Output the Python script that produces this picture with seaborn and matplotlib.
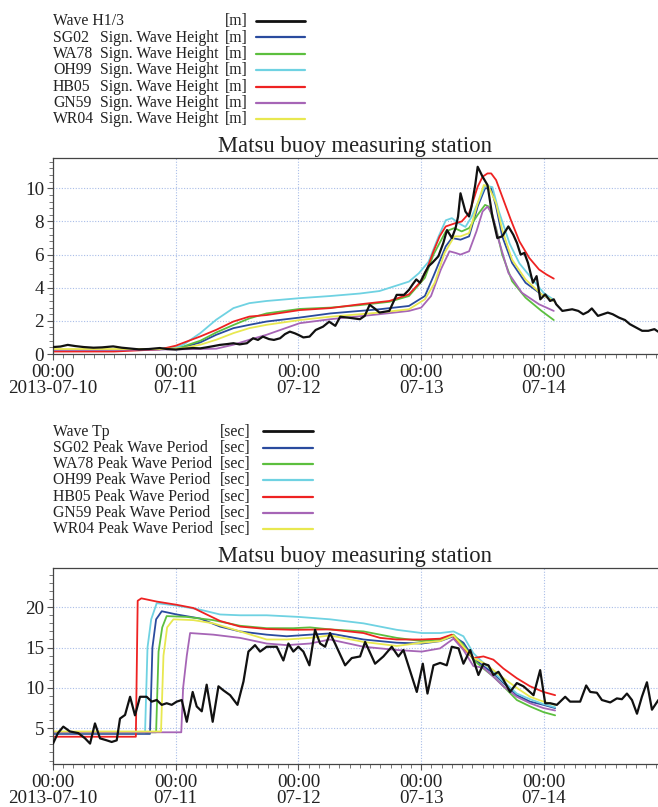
import numpy as np
import pandas as pd
import matplotlib
matplotlib.use("Agg")
import matplotlib.pyplot as plt
import matplotlib.dates as mdates
from matplotlib.ticker import MultipleLocator, FuncFormatter
from matplotlib.lines import Line2D
import seaborn as sns

# ---------------- data (time in days since 2013-07-10 00:00) ----------------
start = pd.Timestamp("2013-07-10 00:00")

# Top panel: significant wave height [m]
obs_h_days = [0.00, 0.06, 0.12, 0.18, 0.25, 0.33, 0.40, 0.49, 0.56, 0.63, 0.70, 0.78, 0.87, 0.93,
              1.00, 1.07, 1.14, 1.20, 1.25, 1.31, 1.36, 1.42, 1.47, 1.52, 1.58, 1.63, 1.67, 1.71,
              1.76, 1.80, 1.85, 1.89, 1.93, 1.97, 2.00, 2.04, 2.09, 2.14, 2.20, 2.25, 2.30, 2.34,
              2.40, 2.45, 2.50, 2.54, 2.58, 2.62, 2.66, 2.70, 2.74, 2.80, 2.86, 2.90, 2.93, 2.96,
              2.99, 3.03, 3.06, 3.09, 3.14, 3.18, 3.21, 3.25, 3.28, 3.30, 3.32, 3.36, 3.39, 3.41,
              3.44, 3.46, 3.50, 3.54, 3.58, 3.62, 3.66, 3.71, 3.75, 3.78, 3.81, 3.84, 3.87, 3.91,
              3.94, 3.97, 4.01, 4.05, 4.08, 4.10, 4.15, 4.19, 4.23, 4.28, 4.32, 4.36, 4.39, 4.44,
              4.48, 4.52, 4.56, 4.61, 4.66, 4.70, 4.75, 4.80, 4.85, 4.90, 4.93]
obs_h = [0.42, 0.45, 0.55, 0.48, 0.42, 0.38, 0.40, 0.46, 0.38, 0.33, 0.28, 0.30, 0.36, 0.30,
         0.27, 0.32, 0.36, 0.34, 0.40, 0.48, 0.55, 0.60, 0.65, 0.58, 0.65, 0.95, 0.85, 1.05,
         0.90, 0.85, 0.95, 1.20, 1.35, 1.25, 1.15, 1.00, 1.05, 1.45, 1.65, 1.95, 1.70, 2.25,
         2.20, 2.15, 2.10, 2.30, 2.97, 2.75, 2.50, 2.55, 2.60, 3.57, 3.57, 3.87, 4.20, 4.50,
         4.30, 4.90, 5.30, 5.50, 5.90, 6.70, 7.48, 7.00, 7.60, 8.29, 9.70, 8.60, 8.30, 8.90,
         10.2, 11.3, 10.7, 10.2, 8.30, 7.00, 7.10, 7.70, 7.20, 6.70, 6.00, 6.10, 5.50, 4.30,
         4.70, 3.30, 3.60, 3.20, 3.30, 3.00, 2.60, 2.65, 2.70, 2.60, 2.40, 2.55, 2.75, 2.30,
         2.40, 2.50, 2.40, 2.20, 2.05, 1.80, 1.60, 1.40, 1.40, 1.50, 1.35]

sg02_h_days = [0, 0.5, 0.87, 1.0, 1.06, 1.2, 1.33, 1.47, 1.6, 1.74, 2.01, 2.26, 2.66, 2.9, 3.03, 3.1,
               3.2, 3.25, 3.32, 3.39, 3.46, 3.52, 3.57, 3.61, 3.66, 3.74, 3.85, 3.98, 4.08]
sg02_h = [0.22, 0.22, 0.28, 0.33, 0.40, 0.70, 1.16, 1.56, 1.76, 1.96, 2.20, 2.45, 2.70, 2.90, 3.50, 4.70,
          6.50, 7.00, 6.90, 7.10, 8.90, 10.0, 10.0, 8.90, 7.10, 5.50, 4.30, 3.60, 3.20]

wa78_h_days = [0, 0.5, 0.87, 1.0, 1.06, 1.2, 1.33, 1.47, 1.6, 1.74, 2.01, 2.26, 2.5, 2.74, 2.9, 3.03,
               3.1, 3.2, 3.27, 3.33, 3.39, 3.46, 3.52, 3.55, 3.61, 3.66, 3.74, 3.85, 3.98, 4.08]
wa78_h = [0.25, 0.25, 0.30, 0.38, 0.45, 0.80, 1.30, 1.75, 2.15, 2.45, 2.72, 2.80, 2.95, 3.15, 3.50, 4.60,
          6.00, 7.40, 7.60, 7.40, 7.60, 8.40, 9.00, 8.90, 7.60, 6.00, 4.40, 3.40, 2.60, 2.05]

oh99_h_days = [0, 0.5, 0.87, 1.0, 1.06, 1.2, 1.33, 1.47, 1.6, 1.74, 2.01, 2.26, 2.5, 2.66, 2.9, 2.98,
               3.06, 3.14, 3.2, 3.25, 3.31, 3.36, 3.41, 3.47, 3.52, 3.58, 3.63, 3.72, 3.8, 3.91, 4.0, 4.08]
oh99_h = [0.25, 0.25, 0.30, 0.40, 0.55, 1.26, 2.07, 2.77, 3.07, 3.20, 3.37, 3.50, 3.65, 3.80, 4.37, 4.87,
          5.57, 7.07, 8.07, 8.20, 7.87, 7.67, 8.27, 9.27, 10.17, 10.07, 8.67, 6.67, 5.47, 4.47, 3.67, 3.27]

hb05_h_days = [0, 0.5, 0.87, 1.0, 1.06, 1.2, 1.33, 1.47, 1.6, 1.74, 2.01, 2.26, 2.5, 2.74, 2.9, 3.0,
               3.05, 3.1, 3.15, 3.2, 3.28, 3.33, 3.39, 3.43, 3.46, 3.5, 3.54, 3.57, 3.61, 3.66, 3.73,
               3.8, 3.88, 3.96, 4.02, 4.08]
hb05_h = [0.15, 0.15, 0.28, 0.50, 0.67, 1.06, 1.46, 1.96, 2.26, 2.35, 2.65, 2.77, 3.00, 3.20, 3.60, 4.40,
          5.20, 6.20, 7.10, 7.70, 7.90, 8.00, 8.50, 9.40, 10.1, 10.7, 10.9, 10.9, 10.5, 9.50, 8.10,
          6.80, 5.80, 5.10, 4.80, 4.55]

gn59_h_days = [0, 0.5, 1.0, 1.33, 1.47, 1.6, 1.74, 2.01, 2.26, 2.66, 2.9, 3.0, 3.08, 3.16, 3.23, 3.28,
               3.32, 3.39, 3.45, 3.5, 3.54, 3.58, 3.63, 3.71, 3.82, 3.96, 4.08]
gn59_h = [0.25, 0.25, 0.28, 0.32, 0.56, 0.86, 1.16, 1.86, 2.10, 2.40, 2.60, 2.80, 3.50, 5.10, 6.20, 6.10,
          6.00, 6.20, 7.40, 8.60, 8.90, 8.40, 6.90, 4.90, 3.70, 3.00, 2.60]

wr04_h_days = [0, 0.5, 0.87, 1.06, 1.2, 1.33, 1.47, 1.6, 1.74, 2.01, 2.26, 2.66, 2.9, 3.03, 3.11, 3.19,
               3.27, 3.32, 3.39, 3.46, 3.51, 3.55, 3.61, 3.66, 3.74, 3.85, 3.98, 4.08]
wr04_h = [0.30, 0.30, 0.30, 0.35, 0.56, 0.86, 1.26, 1.56, 1.76, 2.05, 2.25, 2.50, 2.70, 3.30, 4.30, 6.10,
          7.10, 7.10, 7.30, 9.10, 10.2, 10.1, 9.10, 7.50, 5.70, 4.50, 3.60, 3.20]

# Bottom panel: peak wave period [sec]
obs_t_days = [0.0, 0.04, 0.084, 0.138, 0.206, 0.261, 0.302, 0.342, 0.383, 0.438, 0.478, 0.519, 0.546,
              0.587, 0.628, 0.668, 0.709, 0.763, 0.804, 0.845, 0.886, 0.926, 0.967, 1.008, 1.049,
              1.09, 1.138, 1.171, 1.212, 1.252, 1.301, 1.348, 1.388, 1.443, 1.503, 1.552, 1.592,
              1.646, 1.687, 1.741, 1.823, 1.877, 1.918, 1.958, 1.999, 2.04, 2.089, 2.135, 2.176,
              2.217, 2.257, 2.298, 2.38, 2.434, 2.502, 2.543, 2.624, 2.692, 2.76, 2.814, 2.855,
              2.964, 3.013, 3.051, 3.1, 3.154, 3.208, 3.249, 3.304, 3.344, 3.399, 3.466, 3.507,
              3.548, 3.588, 3.629, 3.67, 3.724, 3.779, 3.833, 3.915, 3.969, 4.01, 4.051, 4.105,
              4.173, 4.213, 4.295, 4.344, 4.377, 4.431, 4.472, 4.54, 4.594, 4.635, 4.676, 4.717,
              4.758, 4.798, 4.839, 4.88, 4.932]
obs_t = [3.1, 4.4, 5.2, 4.6, 4.4, 3.75, 3.1, 5.6, 3.75, 3.5, 3.3, 3.5, 6.2,
         6.65, 8.9, 6.6, 8.9, 8.9, 8.3, 8.5, 7.9, 8.1, 7.9, 8.3, 8.5,
         5.8, 9.5, 7.7, 7.1, 10.4, 5.8, 10.2, 9.7, 9.1, 7.9, 10.8, 14.5,
         15.3, 14.5, 15.1, 15.1, 13.4, 15.5, 14.5, 15.1, 14.5, 12.8, 17.2, 15.5,
         15.1, 16.8, 15.5, 12.8, 13.7, 13.9, 15.7, 13.0, 13.9, 15.1, 13.9, 14.7,
         9.5, 13.0, 9.3, 12.8, 13.1, 12.8, 15.1, 14.9, 13.0, 14.7, 11.6, 13.0,
         12.8, 11.6, 12.0, 11.0, 9.5, 10.6, 10.2, 9.1, 12.2, 8.1, 8.1, 7.9,
         8.9, 8.3, 8.3, 10.3, 9.5, 9.4, 8.5, 8.2, 8.7, 8.6, 9.3, 8.5,
         6.8, 8.9, 10.7, 7.3, 8.5]

sg02_t_days = [0, 0.79, 0.81, 0.84, 0.886, 1.008, 1.198, 1.361, 1.524, 1.741, 1.904, 2.094, 2.257, 2.53,
               2.80, 3.005, 3.154, 3.263, 3.344, 3.425, 3.507, 3.588, 3.67, 3.779, 3.887, 3.996, 4.091]
sg02_t = [4.3, 4.3, 15.0, 18.5, 19.5, 19.1, 18.6, 17.6, 17.0, 16.6, 16.4, 16.6, 16.75, 16.0,
          15.6, 15.5, 15.8, 16.4, 15.6, 13.7, 12.7, 11.8, 10.6, 9.1, 8.3, 7.9, 7.5]

wa78_t_days = [0, 0.84, 0.86, 0.89, 0.926, 1.09, 1.306, 1.524, 1.741, 1.958, 2.094, 2.257, 2.53, 2.80,
               3.005, 3.154, 3.263, 3.344, 3.425, 3.507, 3.588, 3.67, 3.779, 3.887, 3.996, 4.091]
wa78_t = [4.5, 4.5, 14.5, 17.5, 18.9, 18.8, 18.4, 17.7, 17.4, 17.4, 17.5, 17.25, 17.0, 16.2,
          15.8, 16.0, 16.6, 15.3, 13.5, 12.4, 11.4, 10.2, 8.5, 7.7, 7.0, 6.6]

oh99_t_days = [0, 0.75, 0.77, 0.80, 0.845, 1.008, 1.198, 1.361, 1.524, 1.741, 2.0, 2.257, 2.53, 2.80,
               3.005, 3.154, 3.263, 3.344, 3.425, 3.507, 3.588, 3.67, 3.779, 3.887, 3.996, 4.091]
oh99_t = [4.5, 4.5, 15.0, 18.5, 20.5, 20.2, 19.7, 19.1, 19.0, 19.0, 18.8, 18.5, 18.0, 17.2,
          16.8, 16.8, 17.0, 16.4, 14.3, 13.1, 12.0, 10.8, 9.3, 8.6, 8.0, 7.6]

hb05_t_days = [0, 0.675, 0.69, 0.72, 0.845, 1.008, 1.144, 1.252, 1.361, 1.524, 1.741, 1.958, 2.257, 2.53,
               2.665, 2.80, 3.005, 3.154, 3.249, 3.344, 3.425, 3.507, 3.588, 3.67, 3.779, 3.887,
               3.996, 4.091]
hb05_t = [3.95, 3.95, 20.8, 21.1, 20.7, 20.3, 19.9, 19.1, 18.3, 17.6, 17.3, 17.2, 17.25, 16.8,
          16.2, 16.0, 16.0, 16.1, 16.6, 14.9, 13.7, 13.9, 13.5, 12.4, 11.2, 10.2, 9.5, 9.1]

gn59_t_days = [0, 1.045, 1.06, 1.09, 1.117, 1.306, 1.524, 1.741, 1.904, 2.094, 2.257, 2.53, 2.80, 3.005,
               3.154, 3.263, 3.344, 3.425, 3.507, 3.588, 3.67, 3.779, 3.887, 3.996, 4.091]
gn59_t = [4.5, 4.5, 10.0, 14.0, 16.8, 16.6, 16.2, 15.5, 15.3, 15.5, 16.0, 15.1, 14.7, 14.5,
          14.9, 16.1, 14.7, 12.7, 12.5, 11.4, 10.2, 8.9, 8.1, 7.5, 7.2]

wr04_t_days = [0, 0.88, 0.90, 0.93, 0.981, 1.144, 1.306, 1.524, 1.741, 1.904, 2.094, 2.257, 2.53, 2.80,
               3.005, 3.154, 3.263, 3.344, 3.425, 3.507, 3.588, 3.67, 3.779, 3.887, 3.996, 4.091]
wr04_t = [4.6, 4.6, 14.0, 17.5, 18.5, 18.4, 18.0, 17.0, 16.0, 16.0, 16.2, 16.5, 15.7, 15.2,
          15.6, 15.8, 16.5, 15.1, 13.7, 13.1, 12.2, 11.2, 10.0, 8.9, 8.3, 7.9]

height_labels = ["Wave H1/3", "SG02", "WA78", "OH99", "HB05", "GN59", "WR04"]
period_labels = ["Wave Tp", "SG02 Peak Wave Period", "WA78 Peak Wave Period",
                 "OH99 Peak Wave Period", "HB05 Peak Wave Period", "GN59 Peak Wave Period",
                 "WR04 Peak Wave Period"]
colors = ["#111111", "#2a4b9e", "#5cbf3e", "#6fd2e2", "#ee2222", "#a665b6", "#e8e850"]
title_text = "Matsu buoy measuring station"

# ---------------- figure ----------------
sns.set_theme(style="white")
plt.rcParams["font.family"] = ["Liberation Serif", "DejaVu Serif"]
plt.rcParams["text.color"] = "#222222"

W, H = 658, 807
fig = plt.figure(figsize=(W / 100, H / 100), dpi=100)
fig.patch.set_facecolor("white")


def fx(px):
    return px / W


def fy(py):
    return 1 - py / H


ax1 = fig.add_axes([fx(53), fy(354), 1 - fx(53), (354 - 158) / H])
ax2 = fig.add_axes([fx(53), fy(764), 1 - fx(53), (764 - 568) / H])


def to_time(days):
    return start + pd.to_timedelta(np.asarray(days) * 1440, unit="min")


top_series = [(obs_h_days, obs_h), (sg02_h_days, sg02_h), (wa78_h_days, wa78_h),
              (oh99_h_days, oh99_h), (hb05_h_days, hb05_h), (gn59_h_days, gn59_h),
              (wr04_h_days, wr04_h)]
bot_series = [(obs_t_days, obs_t), (sg02_t_days, sg02_t), (wa78_t_days, wa78_t),
              (oh99_t_days, oh99_t), (hb05_t_days, hb05_t), (gn59_t_days, gn59_t),
              (wr04_t_days, wr04_t)]

draw_order = [1, 2, 3, 4, 5, 6, 0]
for ax, series in ((ax1, top_series), (ax2, bot_series)):
    for i in draw_order:
        d, v = series[i]
        df = pd.DataFrame({"time": to_time(d), "value": v})
        sns.lineplot(data=df, x="time", y="value", ax=ax, color=colors[i],
                     linewidth=1.6 if i == 0 else 1.3, legend=False, zorder=3 if i == 0 else 2)

xmin = start
xmax = start + pd.Timedelta(hours=118.3)


def xfmt(x, pos):
    d = mdates.num2date(x)
    if d.month == 7 and d.day == 10:
        return "00:00\n2013-07-10"
    return "00:00\n" + d.strftime("%m-%d")


for ax in (ax1, ax2):
    ax.set_xlim(xmin, xmax)
    ax.set_xlabel("")
    ax.set_ylabel("")
    ax.xaxis.set_major_locator(mdates.DayLocator())
    ax.xaxis.set_minor_locator(mdates.HourLocator(byhour=range(0, 24, 2)))
    ax.xaxis.set_major_formatter(FuncFormatter(xfmt))
    ax.grid(which="major", color="#a9bde8", linestyle=(0, (1, 1.5)), linewidth=0.8)
    ax.set_axisbelow(True)
    for s in ("left", "top", "bottom"):
        ax.spines[s].set_visible(True)
        ax.spines[s].set_color("#444444")
        ax.spines[s].set_linewidth(0.9)
    ax.spines["right"].set_visible(False)
    ax.tick_params(axis="both", which="major", direction="out", length=4.5, width=0.8,
                   color="#555555", labelsize=13.8, labelcolor="#222222")
    ax.tick_params(axis="both", which="minor", direction="out", length=3, width=0.7,
                   color="#777777")
    ax.tick_params(axis="x", which="major", pad=3)
    ax.tick_params(axis="y", which="major", pad=2)
    ax.tick_params(left=True, bottom=True, which="both")
    for lab in ax.get_xticklabels():
        lab.set_linespacing(0.88)
        lab.set_multialignment("center")
    ax.set_title(title_text, fontsize=16.3, pad=4.3, color="#222222")

ax1.set_ylim(0, 11.83)
ax1.yaxis.set_major_locator(MultipleLocator(2))
ax1.yaxis.set_minor_locator(MultipleLocator(0.4))
ax2.set_ylim(0.57, 24.86)
ax2.set_yticks([5, 10, 15, 20])
ax2.yaxis.set_minor_locator(MultipleLocator(1))

# ---------------- legends ----------------
leg_fs = 11.3
top_rows = [21, 37.3, 53.5, 70, 86.5, 103, 119]
for i, yy in enumerate(top_rows):
    fig.text(fx(53), fy(yy + 4.2), height_labels[i], fontsize=leg_fs, va="baseline", ha="left")
    if i > 0:
        fig.text(fx(100), fy(yy + 4.2), "Sign. Wave Height", fontsize=leg_fs, va="baseline", ha="left")
    fig.text(fx(248), fy(yy + 4.2), "[m]", fontsize=leg_fs, va="baseline", ha="right")
    fig.add_artist(Line2D([fx(256), fx(305)], [fy(yy), fy(yy)], transform=fig.transFigure,
                          color=colors[i], linewidth=2.0 if i == 0 else 1.6))

bot_rows = [431, 447.7, 463.5, 480, 496.7, 512.7, 528.7]
for i, yy in enumerate(bot_rows):
    fig.text(fx(53), fy(yy + 4.5), period_labels[i], fontsize=leg_fs, va="baseline", ha="left")
    fig.text(fx(220), fy(yy + 4.5), "[sec]", fontsize=leg_fs, va="baseline", ha="left")
    fig.add_artist(Line2D([fx(263), fx(313)], [fy(yy), fy(yy)], transform=fig.transFigure,
                          color=colors[i], linewidth=2.0 if i == 0 else 1.6))

fig.savefig("out.png", dpi=100)
